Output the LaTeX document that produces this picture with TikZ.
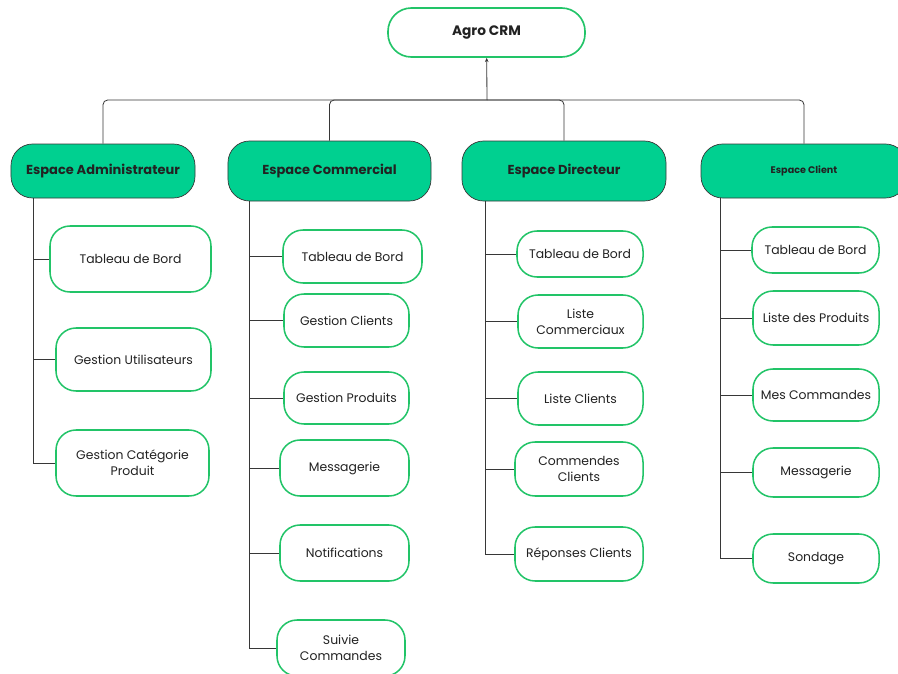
\documentclass[tikz,border=0pt]{standalone}
\usepackage{fontspec}
\setmainfont{Poppins}
\usepackage{xcolor}
\usepackage{tikz}
\usetikzlibrary{arrows.meta,positioning}
\definecolor{vertEspace}{RGB}{0,208,144}
\definecolor{vertBord}{RGB}{34,196,104}
\definecolor{grisTrait}{RGB}{55,55,55}
\definecolor{texteFonce}{RGB}{34,34,34}
\tikzset{
    bloc/.style={
        rectangle,
        draw,
        align=center,
        inner sep=2pt,
        text=texteFonce
    },
    racine/.style={bloc, draw=vertBord, line width=1.4pt, fill=white,
        rounded corners=0.7cm, font=\fontsize{11.7}{14}\selectfont\bfseries},
    espace/.style={bloc, draw=grisTrait, line width=0.6pt, fill=vertEspace,
        rounded corners=0.65cm, font=\fontsize{11.1}{13}\selectfont\bfseries},
    module/.style={bloc, draw=vertBord, line width=1.3pt, fill=white,
        rounded corners=0.6cm, font=\fontsize{10.6}{13.6}\selectfont},
    liaison/.style={draw=grisTrait, line width=0.7pt},
    fleche/.style={liaison, -{Stealth[length=1.3mm, width=1.1mm]}}
}

\begin{document}
\begin{tikzpicture}[x=0.03cm, y=-0.03cm]
    \useasboundingbox (0,0) rectangle (898,673);
    \clip (0,0) rectangle (898,673);
    % racine
    \node[racine, minimum width=5.91cm, minimum height=1.47cm] (agro)
        at (486.5,32.5) {Agro CRM};
    % espaces
    \node[espace, minimum width=5.52cm, minimum height=1.62cm] (admin)
        at (103,171) {Espace Administrateur};
    \node[espace, minimum width=6.09cm, minimum height=1.8cm] (commercial)
        at (329.5,171) {Espace Commercial};
    \node[espace, minimum width=6.12cm, minimum height=1.8cm] (directeur)
        at (564,171) {Espace Directeur};
    \node[espace, minimum width=6.18cm, minimum height=1.62cm,
        font=\fontsize{8.2}{10}\selectfont\bfseries] (client)
        at (804,171) {Espace Client};
    % modules administrateur
    \node[module, minimum width=4.83cm, minimum height=1.98cm] (a1)
        at (130.5,259) {Tableau de Bord};
    \node[module, minimum width=4.65cm, minimum height=1.89cm] (a2)
        at (133.5,359.5) {Gestion Utilisateurs};
    \node[module, minimum width=4.59cm, minimum height=1.98cm] (a3)
        at (132.5,463) {Gestion Catégorie\\Produit};
    % modules commercial
    \node[module, minimum width=4.17cm, minimum height=1.59cm] (c1)
        at (352.5,256.5) {Tableau de Bord};
    \node[module, minimum width=3.75cm, minimum height=1.59cm] (c2)
        at (346.5,320.5) {Gestion Clients};
    \node[module, minimum width=3.75cm, minimum height=1.56cm] (c3)
        at (346.5,398) {Gestion Produits};
    \node[module, minimum width=3.87cm, minimum height=1.68cm] (c4)
        at (344.5,468) {Messagerie};
    \node[module, minimum width=3.87cm, minimum height=1.68cm] (c5)
        at (344.5,553) {Notifications};
    \node[module, minimum width=3.84cm, minimum height=1.68cm] (c6)
        at (341,648) {Suivie\\Commandes};
    % modules directeur
    \node[module, minimum width=3.78cm, minimum height=1.38cm] (d1)
        at (580,254) {Tableau de Bord};
    \node[module, minimum width=3.75cm, minimum height=1.59cm] (d2)
        at (580.5,321.5) {Liste\\Commerciaux};
    \node[module, minimum width=3.75cm, minimum height=1.59cm] (d3)
        at (580.5,398.5) {Liste Clients};
    \node[module, minimum width=3.84cm, minimum height=1.62cm] (d4)
        at (579,469) {Commendes\\Clients};
    \node[module, minimum width=3.84cm, minimum height=1.62cm] (d5)
        at (579,554) {Réponses Clients};
    % modules client
    \node[module, minimum width=3.81cm, minimum height=1.38cm] (k1)
        at (815.5,250) {Tableau de Bord};
    \node[module, minimum width=3.78cm, minimum height=1.62cm] (k2)
        at (816,318) {Liste des Produits};
    \node[module, minimum width=3.78cm, minimum height=1.56cm] (k3)
        at (816,395) {Mes Commandes};
    \node[module, minimum width=3.78cm, minimum height=1.47cm] (k4)
        at (816,472.5) {Messagerie};
    \node[module, minimum width=3.78cm, minimum height=1.47cm] (k5)
        at (816,558.5) {Sondage};
    % liaisons principales
    \coordinate (jonction) at (487,100);
    \draw[fleche] (jonction) -- (agro);
    \draw[liaison, rounded corners=4pt] (jonction) -| (admin);
    \draw[liaison, rounded corners=4pt] (jonction) -| (commercial);
    \draw[liaison, rounded corners=4pt] (jonction) -| (directeur);
    \draw[liaison, rounded corners=4pt] (jonction) -| (client);
    % axes verticaux
    \coordinate (axeAdmin) at ([xshift=0.69cm]admin.south west);
    \coordinate (axeCommercial) at ([xshift=0.66cm]commercial.south west);
    \coordinate (axeDirecteur) at ([xshift=0.72cm]directeur.south west);
    \coordinate (axeClient) at ([xshift=0.6cm]client.south west);
    \draw[liaison] (axeAdmin) |- (a1);
    \draw[liaison] (axeAdmin) |- (a2);
    \draw[liaison] (axeAdmin) |- (a3);
    \draw[liaison] (axeCommercial) |- (c1);
    \draw[liaison] (axeCommercial) |- (c2);
    \draw[liaison] (axeCommercial) |- (c3);
    \draw[liaison] (axeCommercial) |- (c4);
    \draw[liaison] (axeCommercial) |- (c5);
    \draw[liaison] (axeCommercial) |- (c6);
    \draw[liaison] (axeDirecteur) |- (d1);
    \draw[liaison] (axeDirecteur) |- (d2);
    \draw[liaison] (axeDirecteur) |- (d3);
    \draw[liaison] (axeDirecteur) |- (d4);
    \draw[liaison] (axeDirecteur) |- (d5);
    \draw[liaison] (axeClient) |- (k1);
    \draw[liaison] (axeClient) |- (k2);
    \draw[liaison] (axeClient) |- (k3);
    \draw[liaison] (axeClient) |- (k4);
    \draw[liaison] (axeClient) |- (k5);
\end{tikzpicture}
\end{document}
